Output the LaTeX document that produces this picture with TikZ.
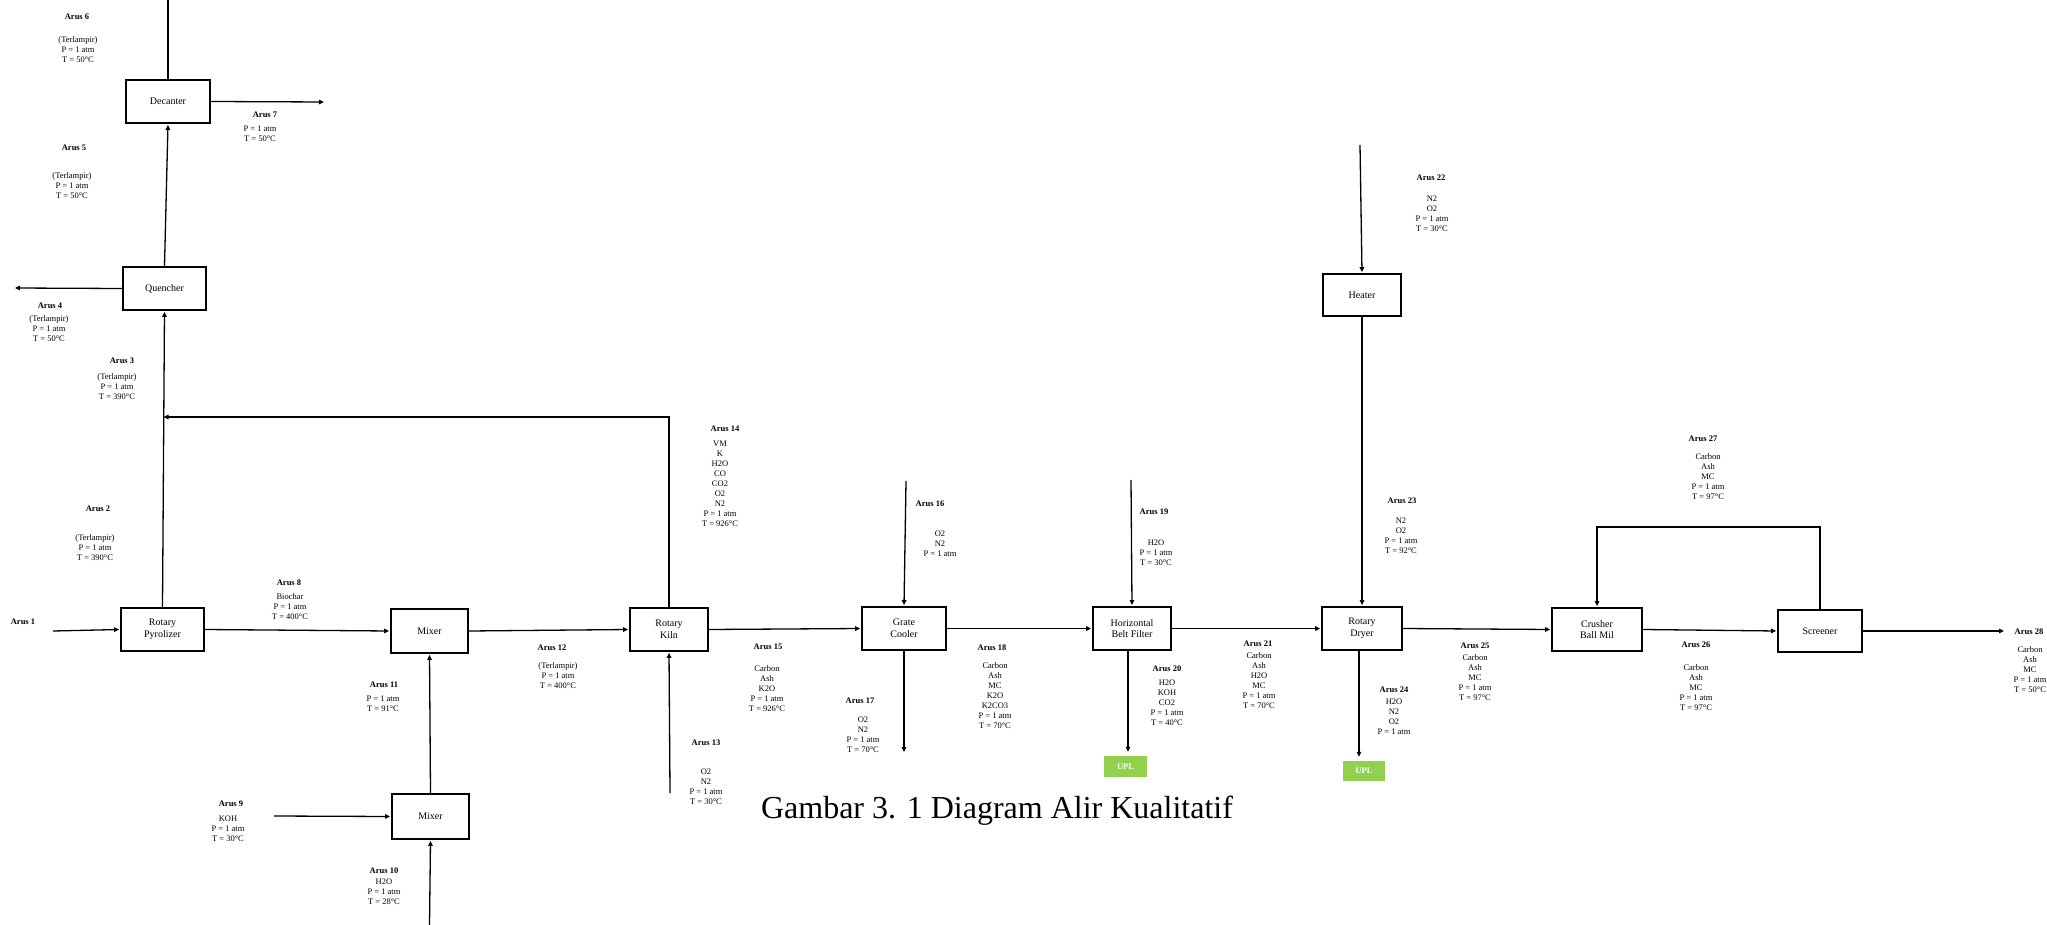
\documentclass[tikz,border=0pt]{standalone}
\usepackage{fontspec}
\setmainfont{Liberation Serif}
\usetikzlibrary{arrows.meta}
\definecolor{uplgreen}{HTML}{92D050}
\begin{document}
\begin{tikzpicture}[x=1pt,y=-1pt,
  unit/.style={draw, line width=1.8pt, inner sep=0pt, align=center, font=\fontsize{10}{11.7}\selectfont},
  upl/.style={fill=uplgreen, text=white, font=\fontsize{8.5}{10}\selectfont\bfseries, inner sep=0pt},
  flow/.style={line width=1.3pt, -{Triangle[length=5pt,width=4.5pt]}, shorten >=1pt},
  pipe/.style={line width=1.3pt},
  ttl/.style={font=\fontsize{8.5}{10}\selectfont\bfseries, inner sep=0pt},
  dtl/.style={font=\fontsize{8.5}{10}\selectfont, align=center, inner sep=0pt, anchor=north}]
\useasboundingbox (0,0) rectangle (2047,925);

% ---------- units ----------
\node[unit, minimum width=84pt, minimum height=43pt] (dec) at (168,101.5) {Decanter};
\node[unit, minimum width=83pt, minimum height=43pt] (que) at (164.5,288.5) {Quencher};
\node[unit, minimum width=83pt, minimum height=43pt] (pyr) at (162.5,629.5) {Rotary\\Pyrolizer};
\node[unit, minimum width=77pt, minimum height=44pt] (mx1) at (429.5,631) {Mixer};
\node[unit, minimum width=77pt, minimum height=45pt] (mx2) at (430.5,816.5) {Mixer};
\node[unit, minimum width=78pt, minimum height=43pt] (kil) at (669,629.5) {Rotary\\Kiln};
\node[unit, minimum width=84pt, minimum height=43pt] (grc) at (904,628.5) {Grate\\Cooler};
\node[unit, minimum width=78pt, minimum height=43pt] (hbf) at (1132,628.5) {Horizontal\\Belt Filter};
\node[unit, minimum width=78pt, minimum height=42pt] (hea) at (1362,295) {Heater};
\node[unit, minimum width=80pt, minimum height=43pt] (dry) at (1362,628.5) {Rotary\\Dryer};
\node[unit, minimum width=90pt, minimum height=43pt] (cru) at (1597,629.5) {Crusher\\Ball Mil};
\node[unit, minimum width=84pt, minimum height=42pt] (scr) at (1820,631) {Screener};
\node[upl, minimum width=43pt, minimum height=21pt] (upl1) at (1125.5,766.5) {UPL};
\node[upl, minimum width=42pt, minimum height=20pt] (upl2) at (1364,771) {UPL};

% ---------- free ends ----------
\coordinate (in1) at (53,631);
\coordinate (out6) at (168,0);
\coordinate (out7) at (325,102);
\coordinate (out4) at (14,288);
\coordinate (in9) at (274,816);
\coordinate (in10) at (429.5,925);
\coordinate (in13) at (670,793);
\coordinate (in16) at (906,481);
\coordinate (out17) at (904,753);
\coordinate (in19) at (1131,480);
\coordinate (in22) at (1360,145);
\coordinate (out28) at (2005,631);
\coordinate (rec14) at (0,417);
\coordinate (rec27) at (0,527);

% ---------- connectors ----------
\draw[flow] (in1) -- (pyr.west);
\draw[flow] (pyr.north) -- (que.south);
\draw[flow] (kil.north) |- (pyr.north |- rec14);
\draw[flow] (que.north) -- (dec.south);
\draw[pipe] (dec.north) -- (out6);
\draw[flow] (dec.east) -- (out7);
\draw[flow] (que.west) -- (out4);
\draw[flow] (pyr.east) -- (mx1.west);
\draw[flow] (mx2.north) -- (mx1.south);
\draw[flow] (in9) -- (mx2.west);
\draw[flow] (in10) -- (mx2.south);
\draw[flow] (mx1.east) -- (kil.west);
\draw[flow] (in13) -- (kil.south);
\draw[flow] (kil.east) -- (grc.west);
\draw[flow] (in16) -- (grc.north);
\draw[flow] (grc.south) -- (out17);
\draw[flow] (grc.east) -- (hbf.west);
\draw[flow] (in19) -- (hbf.north);
\draw[flow, shorten >=4pt] ([xshift=-4pt]hbf.south) -- ([xshift=-4pt]hbf.south |- upl1.north);
\draw[flow] (hbf.east) -- (dry.west);
\draw[flow] (in22) -- (hea.north);
\draw[flow] (hea.south) -- (dry.north);
\draw[flow, shorten >=4pt] ([xshift=-3pt]dry.south) -- ([xshift=-3pt]dry.south |- upl2.north);
\draw[flow] (dry.east) -- (cru.west);
\draw[flow] (cru.east) -- (scr.west);
\draw[flow] (scr.north) -- (scr.north |- rec27) -- (cru.north |- rec27) -- (cru.north);
\draw[flow] (scr.east) -- (out28);

% ---------- stream labels ----------
\node[ttl] (t1) at (23,622) {Arus 1};

\node[ttl] (t2) at (98,509) {Arus 2};
\node[dtl] (d2) at (95,534) {(Terlampir)\\P = 1 atm\\T = 390°C};

\node[ttl] (t3) at (122,361) {Arus 3};
\node[dtl] (d3) at (117,373) {(Terlampir)\\P = 1 atm\\T = 390°C};

\node[ttl] (t4) at (50,306) {Arus 4};
\node[dtl] (d4) at (49,315) {(Terlampir)\\P = 1 atm\\T = 50°C};

\node[ttl] (t5) at (74,148) {Arus 5};
\node[dtl] (d5) at (72,172) {(Terlampir)\\P = 1 atm\\T = 50°C};

\node[ttl] (t6) at (77,17) {Arus 6};
\node[dtl] (d6) at (78,36) {(Terlampir)\\P = 1 atm\\T = 50°C};

\node[ttl] (t7) at (265,115) {Arus 7};
\node[dtl] (d7) at (260,126) {P = 1 atm\\T = 50°C};

\node[ttl] (t8) at (289,583) {Arus 8};
\node[dtl] (d8) at (290,593) {Biochar\\P = 1 atm\\T = 400°C};

\node[ttl] (t9) at (231,804) {Arus 9};
\node[dtl] (d9) at (228,816) {KOH\\P = 1 atm\\T = 30°C};

\node[ttl] (t10) at (384,871) {Arus 10};
\node[dtl] (d10) at (384,879) {H2O\\P = 1 atm\\T = 28°C};

\node[ttl] (t11) at (384,685) {Arus 11};
\node[dtl] (d11) at (383,696) {P = 1 atm\\T = 91°C};

\node[ttl] (t12) at (552,648) {Arus 12};
\node[dtl] (d12) at (558,662) {(Terlampir)\\P = 1 atm\\T = 400°C};

\node[ttl] (t13) at (706,743) {Arus 13};
\node[dtl] (d13) at (706,769) {O2\\N2\\P = 1 atm\\T = 30°C};

\node[ttl] (t14) at (725,429) {Arus 14};
\node[dtl] (d14) at (720,441) {VM\\K\\H2O\\CO\\CO2\\O2\\N2\\P = 1 atm\\T = 926°C};

\node[ttl] (t15) at (768,647) {Arus 15};
\node[dtl] (d15) at (767,665) {Carbon\\Ash\\K2O\\P = 1 atm\\T = 926°C};

\node[ttl] (t16) at (930,504) {Arus 16};
\node[dtl] (d16) at (940,531) {O2\\N2\\P = 1 atm};

\node[ttl] (t17) at (860,701) {Arus 17};
\node[dtl] (d17) at (863,717) {O2\\N2\\P = 1 atm\\T = 70°C};

\node[ttl] (t18) at (992,648) {Arus 18};
\node[dtl] (d18) at (995,662) {Carbon\\Ash\\MC\\K2O\\K2CO3\\P = 1 atm\\T = 70°C};

\node[ttl] (t19) at (1154,512) {Arus 19};
\node[dtl] (d19) at (1156,540) {H2O\\P = 1 atm\\T = 30°C};

\node[ttl] (t20) at (1167,669) {Arus 20};
\node[dtl] (d20) at (1167,680) {H2O\\KOH\\CO2\\P = 1 atm\\T = 40°C};

\node[ttl] (t21) at (1258,644) {Arus 21};
\node[dtl] (d21) at (1259,652) {Carbon\\Ash\\H2O\\MC\\P = 1 atm\\T = 70°C};

\node[ttl] (t22) at (1431,178) {Arus 22};
\node[dtl] (d22) at (1432,196) {N2\\O2\\P = 1 atm\\T = 30°C};

\node[ttl] (t23) at (1402,501) {Arus 23};
\node[dtl] (d23) at (1401,518) {N2\\O2\\P = 1 atm\\T = 92°C};

\node[ttl] (t24) at (1394,690) {Arus 24};
\node[dtl] (d24) at (1394,699) {H2O\\N2\\O2\\P = 1 atm};

\node[ttl] (t25) at (1475,646) {Arus 25};
\node[dtl] (d25) at (1475,654) {Carbon\\Ash\\MC\\P = 1 atm\\T = 97°C};

\node[ttl] (t26) at (1696,645) {Arus 26};
\node[dtl] (d26) at (1696,664) {Carbon\\Ash\\MC\\P = 1 atm\\T = 97°C};

\node[ttl] (t27) at (1703,439) {Arus 27};
\node[dtl] (d27) at (1708,453) {Carbon\\Ash\\MC\\P = 1 atm\\T = 97°C};

\node[ttl] (t28) at (2029,632) {Arus 28};
\node[dtl] (d28) at (2030,646) {Carbon\\Ash\\MC\\P = 1 atm\\T = 50°C};

% ---------- caption ----------
\node[font=\fontsize{32}{36}\selectfont, anchor=base, inner sep=0pt] (cap) at (997,818) {Gambar 3. 1 Diagram Alir Kualitatif};
\end{tikzpicture}
\end{document}
